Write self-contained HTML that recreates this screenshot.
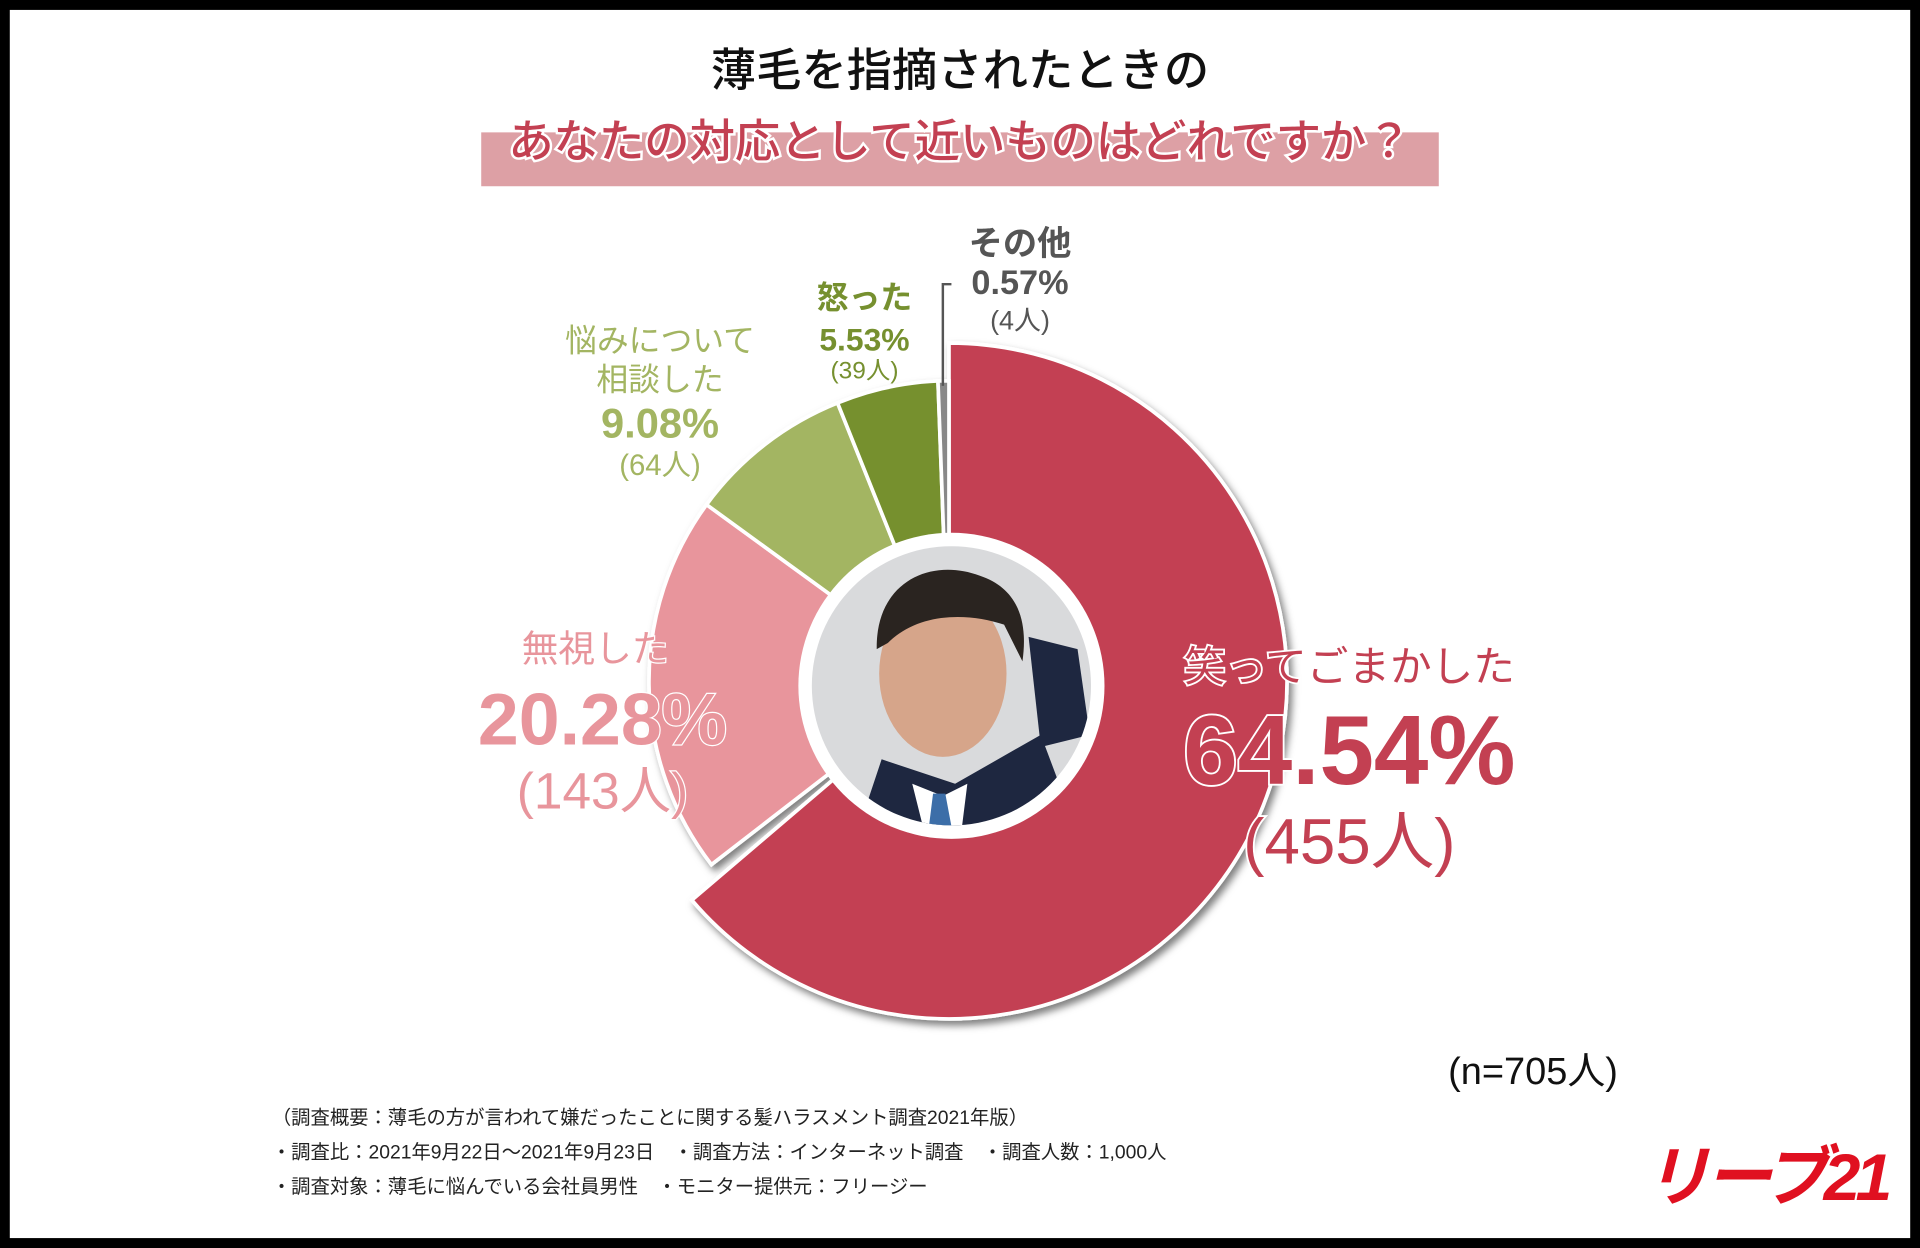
<!DOCTYPE html>
<html><head><meta charset="utf-8"><style>
html,body{margin:0;padding:0;background:#000;}
svg{display:block;}
text{font-family:"Liberation Sans","Noto Sans CJK JP",sans-serif;}
</style></head><body>
<svg width="1920" height="1248" viewBox="0 0 1568 1019" xmlns="http://www.w3.org/2000/svg">
<defs>
<filter id="sh" x="-20%" y="-20%" width="140%" height="140%"><feDropShadow dx="3" dy="4" stdDeviation="3" flood-color="#000" flood-opacity="0.5"/></filter>
<clipPath id="cp"><circle cx="777" cy="560" r="114"/></clipPath>
</defs>
<rect x="8" y="8" width="1552" height="1003" fill="#fff"/>
<text x="784" y="70" text-anchor="middle" font-size="37" font-weight="500" fill="#111">薄毛を指摘されたときの</text>
<rect x="393" y="108" width="782" height="44" fill="#dda0a5"/>
<text x="784" y="128" text-anchor="middle" font-size="37" font-weight="500" fill="#c34052" stroke="#fff" stroke-width="4" paint-order="stroke">あなたの対応として近いものはどれですか？</text>

<g filter="url(#sh)" stroke="#fff" stroke-width="3">
<path d="M775,556 L775,280 A276,276 0 1 1 565,735 Z" fill="#c34052"/>
<path d="M775,556 L581,706 A245,245 0 0 1 577,412 Z" fill="#e8959c"/>
<path d="M775,556 L577,412 A245,245 0 0 1 684,329 Z" fill="#a3b562"/>
<path d="M775,556 L684,329 A245,245 0 0 1 766,311 Z" fill="#76902f"/>
<path d="M775,556 L766,311 A245,245 0 0 1 775,311 Z" fill="#888"/>
</g>
<circle cx="777" cy="560" r="125" fill="#fff"/>
<g clip-path="url(#cp)">
<rect x="650" y="440" width="260" height="240" fill="#d9dadc"/>
<path d="M700,680 L720,620 L780,640 L850,600 L880,680 Z" fill="#1e2740"/>
<path d="M745,640 L770,650 L790,640 L785,680 L755,680 Z" fill="#fff"/>
<path d="M762,648 L772,648 L778,680 L758,680 Z" fill="#3c6ea8"/>
<ellipse cx="770" cy="550" rx="52" ry="68" fill="#d6a58a"/>
<path d="M716,530 C715,475 760,455 800,470 C830,480 840,505 835,540 L820,510 C790,500 750,500 725,525 Z" fill="#2a2420"/>
<path d="M840,520 L880,530 L890,600 L850,610 Z" fill="#1e2740"/>
</g>

<g fill="#c34052" stroke="#fff" stroke-width="3" paint-order="stroke" text-anchor="middle" font-weight="700">
<text x="1102" y="556" font-size="34" font-weight="400">笑ってごまかした</text>
<text x="1102" y="640" font-size="80">64.54%</text>
<text x="1102" y="705" font-size="52" font-weight="400">(455人)</text>
</g>
<g fill="#e8959c" stroke="#fff" stroke-width="2" paint-order="stroke" text-anchor="middle">
<text x="486" y="540" font-size="30">無視した</text>
<text x="492" y="608" font-size="60" font-weight="700">20.28%</text>
<text x="492" y="660" font-size="42">(143人)</text>
</g>
<g fill="#a3b562" text-anchor="middle">
<text x="539" y="287" font-size="26">悩みについて</text>
<text x="539" y="319" font-size="26">相談した</text>
<text x="539" y="357" font-size="34" font-weight="700">9.08%</text>
<text x="539" y="388" font-size="24">(64人)</text>
</g>
<g fill="#76902f" text-anchor="middle">
<text x="706" y="252" font-size="26" font-weight="700">怒った</text>
<text x="706" y="286" font-size="26" font-weight="700">5.53%</text>
<text x="706" y="309" font-size="20">(39人)</text>
</g>
<g fill="#555" text-anchor="middle">
<text x="833" y="208" font-size="28" font-weight="700">その他</text>
<text x="833" y="240" font-size="28" font-weight="700">0.57%</text>
<text x="833" y="269" font-size="22">(4人)</text>
</g>
<path d="M777,232 L770,232 L770,315" stroke="#555" stroke-width="2" fill="none"/>

<text x="1252" y="885" text-anchor="middle" font-size="31" fill="#111">(n=705人)</text>
<g font-size="15.8" fill="#222">
<text x="222" y="918">（調査概要：薄毛の方が言われて嫌だったことに関する髪ハラスメント調査2021年版）</text>
<text x="222" y="946">・調査比：2021年9月22日〜2021年9月23日　・調査方法：インターネット調査　・調査人数：1,000人</text>
<text x="222" y="974">・調査対象：薄毛に悩んでいる会社員男性　・モニター提供元：フリージー</text>
</g>
<text x="1442" y="980" text-anchor="middle" font-size="54" font-weight="700" font-style="italic" fill="#e01020" letter-spacing="-4">リーブ21</text>
</svg>
</body></html>
